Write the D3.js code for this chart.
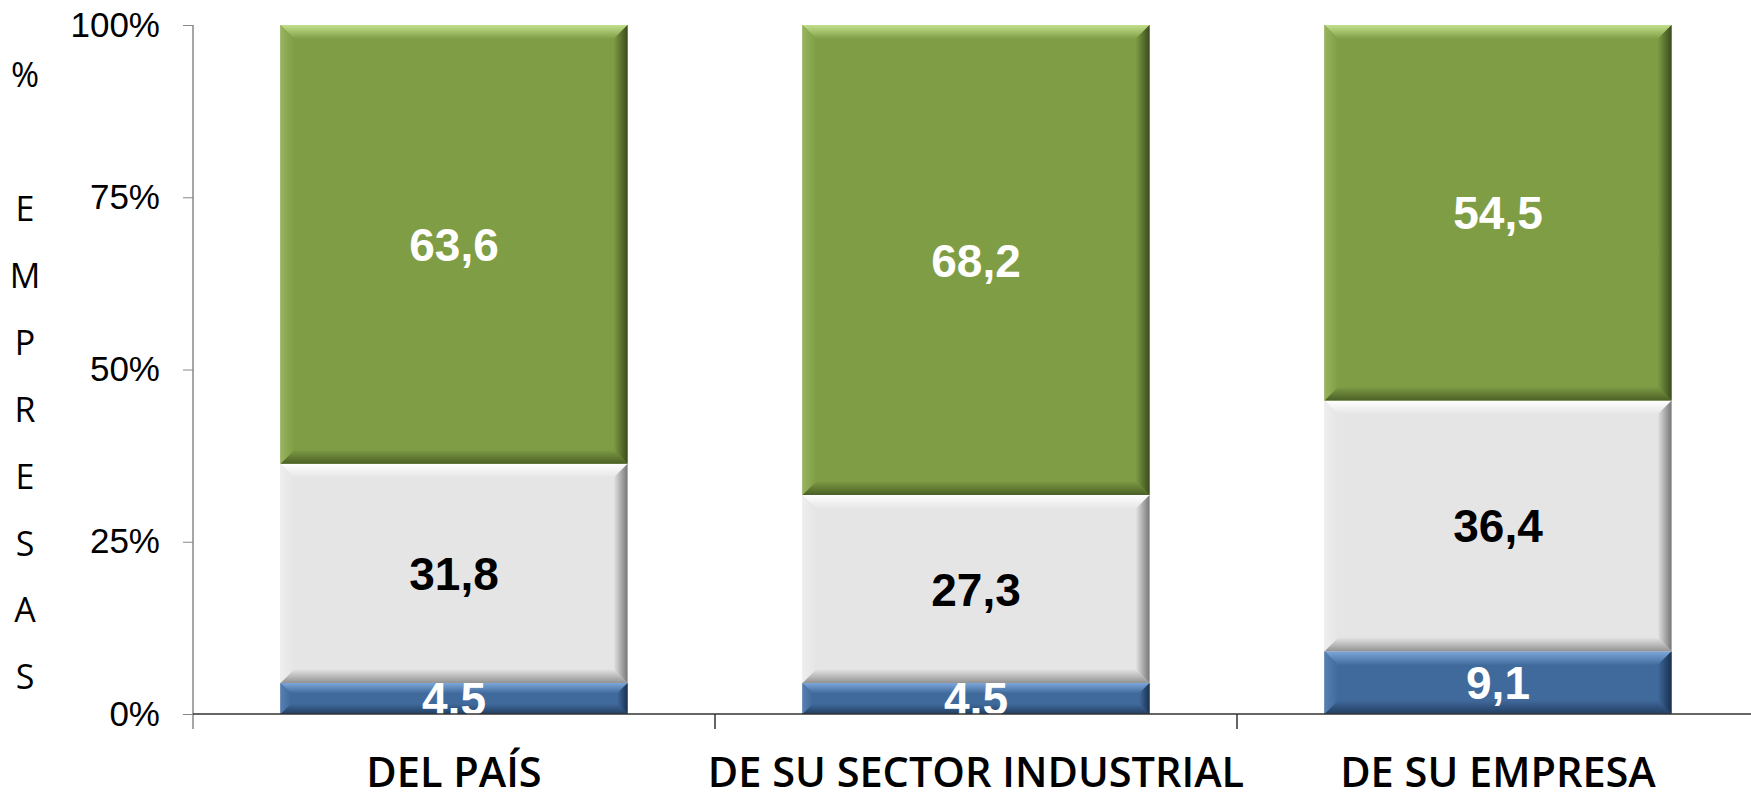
<!DOCTYPE html>
<html>
<head>
<meta charset="utf-8">
<script src="https://cdn.jsdelivr.net/npm/d3@7"></script>
<style>
body { margin: 0; background: #fff; }
</style>
</head>
<body>
<div id="chart"></div>
<script>
// data
var categories = ["DEL PAÍS", "DE SU SECTOR INDUSTRIAL", "DE SU EMPRESA"]
var seriesNames = ["bajo", "medio", "alto"]
var bajo = [4.5, 4.5, 9.1]
var medio = [31.8, 27.3, 36.4]
var alto = [63.6, 68.2, 54.5]
var yTicks = [0, 25, 50, 75, 100]
var yTitle = ["%", "", "E", "M", "P", "R", "E", "S", "A", "S"]

// look of each series (bottom to top)
var looks = [
    { base: "#416a9c", light: "#7da7da", dark: "#18304f", label: "#fff" },
    { base: "#e5e5e5", light: "#ffffff", dark: "#777777", label: "#000" },
    { base: "#7f9d45", light: "#c3df8c", dark: "#3a4c1c", label: "#fff" }
]

var W = 1751, H = 796
var svg = d3.select("#chart").append("svg").attr("width", W).attr("height", H)
var defs = svg.append("defs")

var plotL = 193, plotT = 25, plotB = 714, plotR = 1759
var x = d3.scaleBand().domain(categories).range([plotL, plotR]).paddingInner(0.335).paddingOuter(0.1675)
var y = d3.scaleLinear().domain([0, 100]).range([plotB, plotT])

// rows for stacking, normalised to 100%
var rows = categories.map(function(c, i) {
    var total = bajo[i] + medio[i] + alto[i]
    return { cat: c, bajo: bajo[i] / total * 100, medio: medio[i] / total * 100, alto: alto[i] / total * 100,
             raw: [bajo[i], medio[i], alto[i]] }
})
var stacked = d3.stack().keys(seriesNames)(rows)

// gradients for bevel edges
looks.forEach(function(l, i) {
    var sides = {
        top: [0, 0, 0, 1, l.light, l.base],
        bot: [0, 1, 0, 0, d3.interpolateRgb(l.base, l.dark)(0.75), l.base],
        lft: [0, 0, 1, 0, d3.interpolateRgb(l.base, l.light)(0.35), l.base],
        rgt: [1, 0, 0, 0, l.dark, l.base]
    }
    Object.keys(sides).forEach(function(k) {
        var s = sides[k]
        var g = defs.append("linearGradient").attr("id", "g" + i + k)
            .attr("x1", s[0]).attr("y1", s[1]).attr("x2", s[2]).attr("y2", s[3])
        g.append("stop").attr("offset", "0%").attr("stop-color", s[4])
        g.append("stop").attr("offset", "100%").attr("stop-color", s[5])
    })
})

defs.append("clipPath").attr("id", "plotclip").append("rect")
    .attr("x", plotL).attr("y", plotT).attr("width", plotR - plotL).attr("height", plotB - plotT)

// bars
stacked.forEach(function(layer, i) {
    var g = svg.append("g").attr("class", "series")
    layer.forEach(function(d) {
        var x0 = x(d.data.cat), x1 = x0 + x.bandwidth()
        var y0 = y(d[1]), y1 = y(d[0])
        var b = Math.min(14, (y1 - y0) / 3)
        g.append("rect").attr("x", x0).attr("y", y0).attr("width", x1 - x0).attr("height", y1 - y0)
            .attr("fill", looks[i].base)
        var pts = {
            top: [[x0, y0], [x1, y0], [x1 - b, y0 + b], [x0 + b, y0 + b]],
            bot: [[x0, y1], [x1, y1], [x1 - b, y1 - b], [x0 + b, y1 - b]],
            lft: [[x0, y0], [x0 + b, y0 + b], [x0 + b, y1 - b], [x0, y1]],
            rgt: [[x1, y0], [x1 - b, y0 + b], [x1 - b, y1 - b], [x1, y1]]
        }
        Object.keys(pts).forEach(function(k) {
            g.append("polygon").attr("points", pts[k].map(function(p) { return p.join(",") }).join(" "))
                .attr("fill", "url(#g" + i + k + ")")
        })
    })
})

// data labels
var labels = svg.append("g").attr("clip-path", "url(#plotclip)")
stacked.forEach(function(layer, i) {
    layer.forEach(function(d, j) {
        labels.append("text")
            .attr("x", x(d.data.cat) + x.bandwidth() / 2)
            .attr("y", (y(d[0]) + y(d[1])) / 2)
            .attr("dy", "0.36em")
            .attr("text-anchor", "middle")
            .style("font-family", "'Liberation Sans', Arial, sans-serif")
            .style("font-weight", "bold")
            .style("font-size", "46px")
            .style("fill", looks[i].label)
            .text(d3.format(".1f")(d.data.raw[i]).replace(".", ","))
    })
})

// y axis
var yAxis = svg.append("g").attr("transform", "translate(" + plotL + ",0)")
    .call(d3.axisLeft(y).tickValues(yTicks).tickSize(10).tickPadding(23).tickFormat(function(d) { return d + "%" }))
yAxis.select(".domain").remove()
yAxis.selectAll(".tick line").attr("stroke", "#888")
yAxis.selectAll(".tick text")
    .style("font-family", "'Liberation Sans', Arial, sans-serif")
    .style("font-size", "35px")
    .attr("fill", "#000")
svg.append("line").attr("x1", plotL).attr("x2", plotL).attr("y1", plotT).attr("y2", plotB + 15)
    .attr("stroke", "#888").attr("stroke-width", 1.5)

// x axis
svg.append("line").attr("x1", plotL).attr("x2", W).attr("y1", plotB).attr("y2", plotB)
    .attr("stroke", "#333").attr("stroke-width", 1.5)
var step = x.step()
d3.range(1, categories.length).forEach(function(i) {
    svg.append("line").attr("x1", plotL + i * step).attr("x2", plotL + i * step)
        .attr("y1", plotB).attr("y2", plotB + 15).attr("stroke", "#333").attr("stroke-width", 1.5)
})
var xAxis = svg.append("g").attr("transform", "translate(0," + plotB + ")")
    .call(d3.axisBottom(x).tickSize(0).tickPadding(0))
xAxis.select(".domain").remove()
xAxis.selectAll(".tick text")
    .attr("y", 73).attr("dy", 0)
    .style("font-family", "'Open Sans', 'Noto Sans', sans-serif")
    .style("font-weight", "600")
    .style("font-size", "41.5px")
    .attr("fill", "#000")

// y title, one letter per line
svg.append("g").selectAll("text").data(yTitle).enter().append("text")
    .attr("x", 25)
    .attr("y", function(d, i) { return 75 + i * 66.9 })
    .attr("dy", "0.36em")
    .attr("text-anchor", "middle")
    .style("font-family", "'Open Sans', 'Noto Sans', sans-serif")
    .style("font-size", "34px")
    .text(function(d) { return d })
</script>
</body>
</html>
